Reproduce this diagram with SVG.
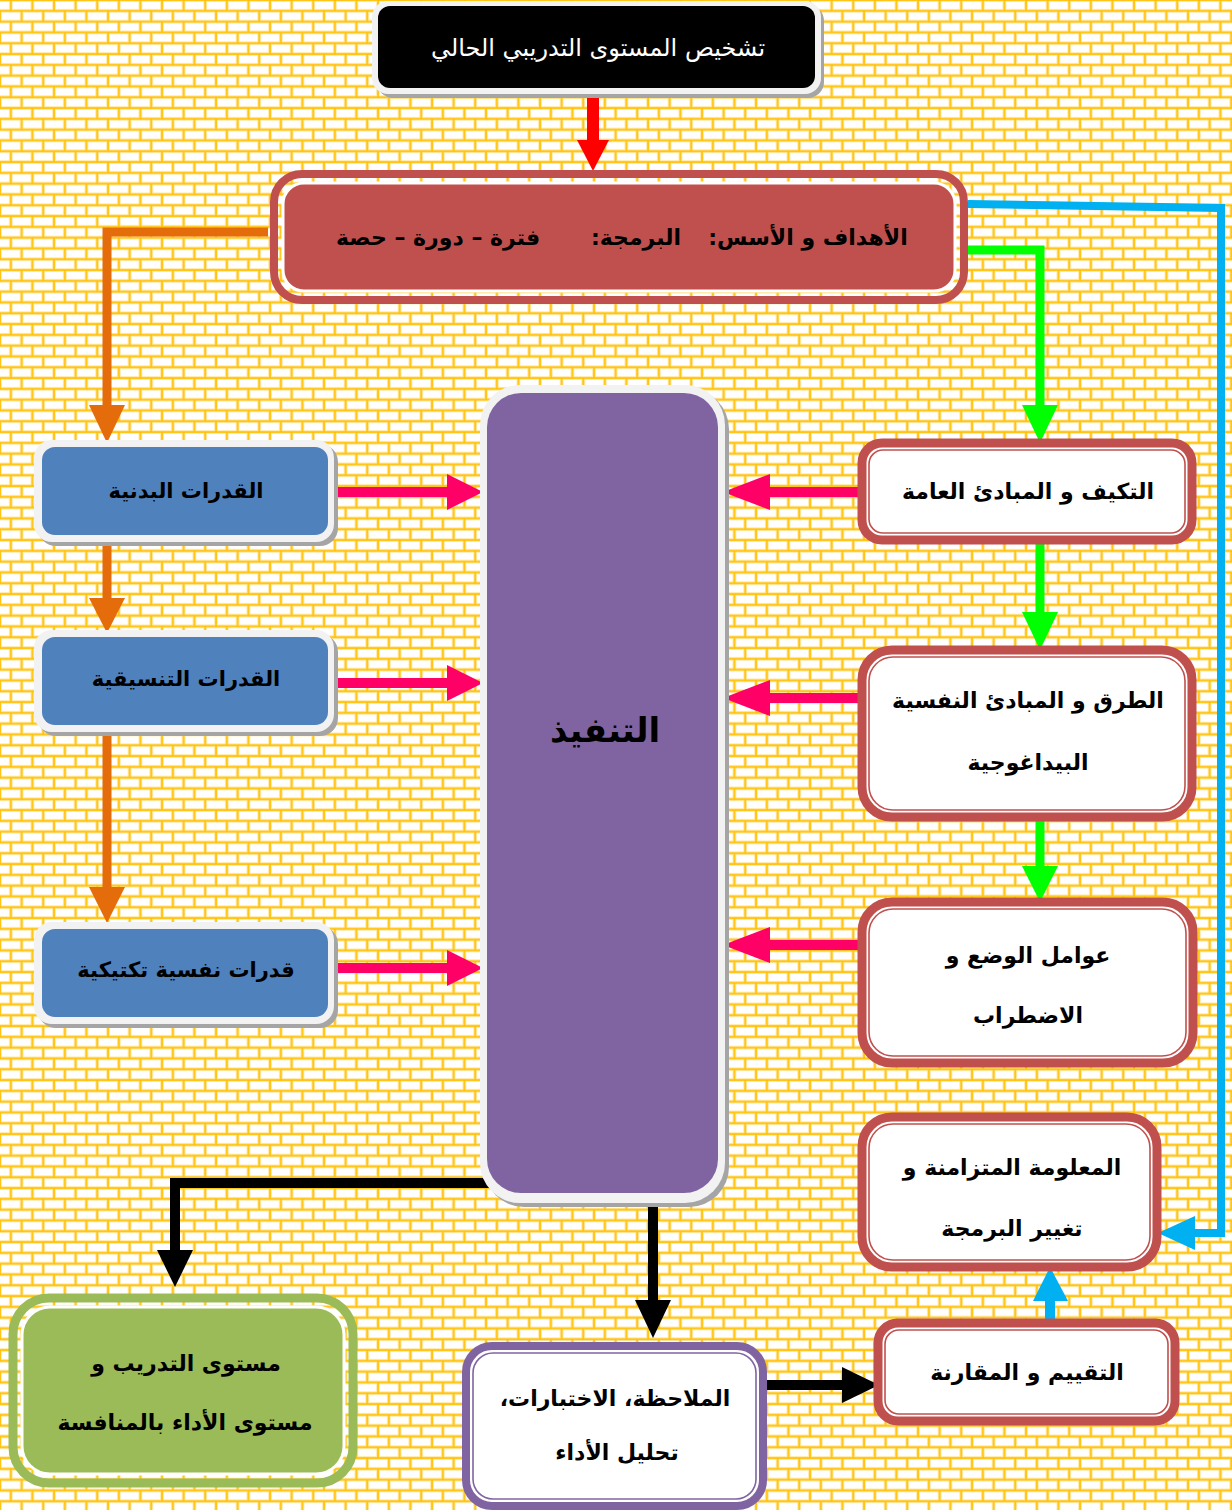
<svg xmlns="http://www.w3.org/2000/svg" width="1232" height="1510" viewBox="0 0 1232 1510">
  <defs>
    <!-- brick wall background -->
    <pattern id="bricks" patternUnits="userSpaceOnUse" width="21.6" height="21.6">
      <rect width="21.6" height="21.6" fill="#FFC000"/>
      <g fill="#FFFFFF" stroke="#FFE9A6" stroke-width="0.9">
        <rect x="12.1" y="1.3" width="19.1" height="8.3"/>
        <rect x="-9.5" y="1.3" width="19.1" height="8.3"/>
        <rect x="1.3" y="12.1" width="19.1" height="8.3"/>
      </g>
    </pattern>
    <style>
      .lbl { font-family: "DejaVu Sans", sans-serif; font-weight: bold; font-size: 22px; fill: #000; text-anchor: middle; direction: rtl; }
      .shadow { fill: #A5A5A5; }
      .frame { fill: #F2F2F2; }
      .blue { fill: #4F81BD; }
      .redOuter { fill: #FFFFFF; stroke: #C0504D; stroke-width: 9; }
      .redInner { fill: none; stroke: #C0504D; stroke-width: 1.6; }
    </style>
  </defs>

  <rect width="1232" height="1510" fill="url(#bricks)"/>

  <!-- connectors -->
  <g id="connectors">
    <!-- red: diagnosis to objectives -->
    <rect x="587" y="92" width="12" height="50" fill="#FF0000"/>
    <polygon points="577,140 609,140 593,171" fill="#FF0000"/>

    <!-- orange: objectives down the left column -->
    <polyline points="268,232 107,232 107,408" fill="none" stroke="#E46C0A" stroke-width="9"/>
    <polygon points="89,405 125,405 107,443" fill="#E46C0A"/>
    <rect x="102.5" y="540" width="9" height="62" fill="#E46C0A"/>
    <polygon points="89,598 125,598 107,633" fill="#E46C0A"/>
    <rect x="102.5" y="733" width="9" height="158" fill="#E46C0A"/>
    <polygon points="89,887 125,887 107,923" fill="#E46C0A"/>

    <!-- green: objectives down the right column -->
    <polyline points="968,250 1040,250 1040,408" fill="none" stroke="#00FF00" stroke-width="9"/>
    <polygon points="1022,405 1058,405 1040,443" fill="#00FF00"/>
    <rect x="1035.5" y="540" width="9" height="75" fill="#00FF00"/>
    <polygon points="1022,612 1058,612 1040,650" fill="#00FF00"/>
    <rect x="1035.5" y="818" width="9" height="51" fill="#00FF00"/>
    <polygon points="1022,866 1058,866 1040,902" fill="#00FF00"/>

    <!-- pink: abilities into execution -->
    <g fill="#FF0066">
      <rect x="333" y="487" width="117" height="10"/>
      <polygon points="447,474 447,510 483,492"/>
      <rect x="333" y="678" width="117" height="10"/>
      <polygon points="447,665 447,701 483,683"/>
      <rect x="333" y="963" width="117" height="10"/>
      <polygon points="447,950 447,986 483,968"/>
      <!-- principles into execution -->
      <rect x="767" y="487" width="96" height="10"/>
      <polygon points="770,474 770,510 723,492"/>
      <rect x="767" y="693" width="96" height="10"/>
      <polygon points="770,680 770,716 723,698"/>
      <rect x="767" y="940" width="96" height="10"/>
      <polygon points="770,927 770,963 723,945"/>
    </g>

    <!-- cyan: feedback loop to programme change -->
    <polyline points="968,204 1221,208 1221,1233 1193,1233" fill="none" stroke="#00B0F0" stroke-width="8"/>
    <polygon points="1195,1216 1195,1250 1158,1233" fill="#00B0F0"/>
    <rect x="1045" y="1298" width="10" height="26" fill="#00B0F0"/>
    <polygon points="1033,1301 1068,1301 1050,1267" fill="#00B0F0"/>

    <!-- black: execution outputs -->
    <polyline points="495,1183 175,1183 175,1253" fill="none" stroke="#000" stroke-width="10"/>
    <polygon points="157,1250 193,1250 175,1287" fill="#000"/>
    <rect x="648" y="1198" width="10" height="105" fill="#000"/>
    <polygon points="635,1300 671,1300 653,1338" fill="#000"/>
    <rect x="762" y="1380" width="83" height="10" fill="#000"/>
    <polygon points="842,1367 842,1403 879,1385" fill="#000"/>
  </g>

  <!-- diagnosis of current level -->
  <g id="node-diagnosis">
    <rect class="shadow" x="377" y="5" width="447" height="93" rx="16"/>
    <rect class="frame" x="372" y="1" width="449" height="93" rx="16"/>
    <rect x="378" y="6" width="437" height="82" rx="12" fill="#000"/>
    <text x="598" y="56" style="font-family: 'DejaVu Sans', sans-serif; font-size: 24px; fill: #FFF; text-anchor: middle; direction: rtl;">تشخيص المستوى التدريبي الحالي</text>
  </g>

  <!-- objectives and programming -->
  <g id="node-objectives">
    <rect x="274" y="174" width="690" height="126" rx="28" fill="none" stroke="#C0504D" stroke-width="8"/>
    <rect x="283" y="183" width="672" height="108" rx="21" fill="#C0504D" stroke="#FFFFFF" stroke-width="3"/>
    <text class="lbl" x="808" y="245">الأهداف و الأسس:</text>
    <text class="lbl" x="636" y="245">البرمجة:</text>
    <text class="lbl" x="438" y="245">فترة – دورة – حصة</text>
  </g>

  <!-- physical abilities -->
  <g id="node-physical">
    <rect class="shadow" x="38" y="444" width="300" height="102" rx="18"/>
    <rect class="frame" x="34" y="440" width="300" height="102" rx="18"/>
    <rect class="blue" x="42" y="447" width="286" height="88" rx="13"/>
    <text class="lbl" x="186" y="498" style="font-size: 21px;">القدرات البدنية</text>
  </g>

  <!-- coordination abilities -->
  <g id="node-coordination">
    <rect class="shadow" x="38" y="634" width="300" height="102" rx="18"/>
    <rect class="frame" x="34" y="630" width="300" height="102" rx="18"/>
    <rect class="blue" x="42" y="637" width="286" height="88" rx="13"/>
    <text class="lbl" x="186" y="686" style="font-size: 21px;">القدرات التنسيقية</text>
  </g>

  <!-- psycho-tactical abilities -->
  <g id="node-tactical">
    <rect class="shadow" x="38" y="926" width="300" height="102" rx="18"/>
    <rect class="frame" x="34" y="922" width="300" height="102" rx="18"/>
    <rect class="blue" x="42" y="929" width="286" height="88" rx="13"/>
    <text class="lbl" x="186" y="977" style="font-size: 21px;">قدرات نفسية تكتيكية</text>
  </g>

  <!-- execution -->
  <g id="node-execution">
    <rect class="shadow" x="484" y="389" width="245" height="818" rx="40"/>
    <rect class="frame" x="480" y="385" width="245" height="818" rx="40"/>
    <rect x="487" y="393" width="231" height="800" rx="34" fill="#8064A2"/>
    <text class="lbl" x="605" y="742" style="font-size: 34px;">التنفيذ</text>
  </g>

  <!-- adaptation and general principles -->
  <g id="node-adaptation">
    <rect class="redOuter" x="862" y="443" width="330" height="97" rx="20"/>
    <rect class="redInner" x="869" y="450" width="316" height="83" rx="14"/>
    <text class="lbl" x="1028" y="499">التكيف و المبادئ العامة</text>
  </g>

  <!-- methods and pedagogical principles -->
  <g id="node-methods">
    <rect class="redOuter" x="862" y="650" width="330" height="167" rx="30"/>
    <rect class="redInner" x="869" y="657" width="316" height="153" rx="24"/>
    <text class="lbl" x="1028" y="708">الطرق و المبادئ النفسية</text>
    <text class="lbl" x="1028" y="770">البيداغوجية</text>
  </g>

  <!-- situation and disturbance factors -->
  <g id="node-factors">
    <rect class="redOuter" x="862" y="902" width="331" height="161" rx="30"/>
    <rect class="redInner" x="869" y="909" width="317" height="147" rx="24"/>
    <text class="lbl" x="1028" y="963">عوامل الوضع و</text>
    <text class="lbl" x="1028" y="1023">الاضطراب</text>
  </g>

  <!-- concurrent information and programme change -->
  <g id="node-feedback">
    <rect class="redOuter" x="862" y="1117" width="295" height="150" rx="30"/>
    <rect class="redInner" x="869" y="1124" width="281" height="136" rx="24"/>
    <text class="lbl" x="1012" y="1175">المعلومة المتزامنة و</text>
    <text class="lbl" x="1012" y="1236">تغيير البرمجة</text>
  </g>

  <!-- evaluation and comparison -->
  <g id="node-evaluation">
    <rect class="redOuter" x="878" y="1323" width="297" height="98" rx="20"/>
    <rect class="redInner" x="885" y="1330" width="283" height="84" rx="14"/>
    <text class="lbl" x="1027" y="1380">التقييم و المقارنة</text>
  </g>

  <!-- observation, tests, performance analysis -->
  <g id="node-observation">
    <rect x="466" y="1346" width="297" height="160" rx="26" fill="#FFFFFF" stroke="#8064A2" stroke-width="8"/>
    <rect x="473" y="1353" width="283" height="146" rx="20" fill="none" stroke="#8064A2" stroke-width="1.6"/>
    <text class="lbl" x="615" y="1406">الملاحظة، الاختبارات،</text>
    <text class="lbl" x="617" y="1460">تحليل الأداء</text>
  </g>

  <!-- training level and competition performance -->
  <g id="node-level">
    <rect x="13" y="1298" width="340" height="185" rx="36" fill="none" stroke="#9BBB59" stroke-width="9"/>
    <rect x="22" y="1307" width="322" height="167" rx="28" fill="#9BBB59" stroke="#FFFFFF" stroke-width="3"/>
    <text class="lbl" x="186" y="1371">مستوى التدريب و</text>
    <text class="lbl" x="185" y="1430">مستوى الأداء بالمنافسة</text>
  </g>
</svg>
